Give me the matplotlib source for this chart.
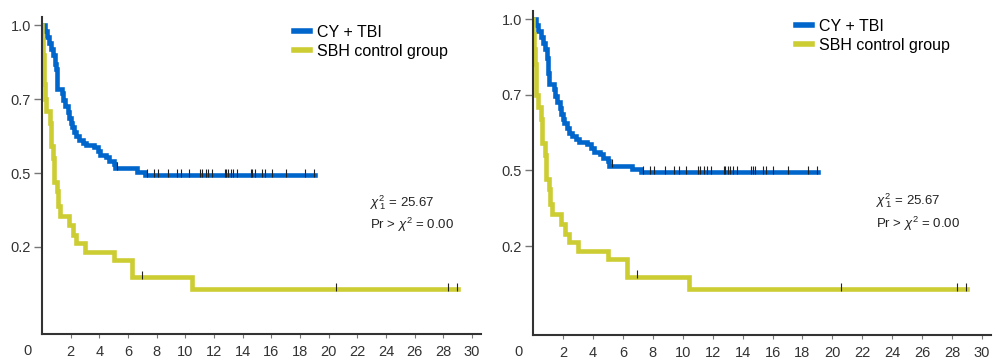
import numpy as np
import matplotlib
matplotlib.use("Agg")
from matplotlib import pyplot as plt

plt.rcParams['font.family'] = ['Liberation Sans', 'DejaVu Sans']
plt.rcParams['mathtext.fontset'] = 'custom'
plt.rcParams['mathtext.rm'] = 'Liberation Sans'
plt.rcParams['mathtext.it'] = 'Liberation Sans:italic'

# CY + TBI: step times (years) and survival after each step
cy_times = [0, 0.2, 0.35, 0.5, 0.65, 0.8, 0.9, 0.97, 1.02, 1.07, 1.4, 1.5, 1.6,
            1.8, 1.9, 2.0, 2.1, 2.25, 2.4, 2.6, 2.85, 3.1, 3.6, 3.9, 4.05, 4.5,
            4.65, 5.0, 5.1, 6.6, 7.2]
cy_surv = [1.0, 0.98, 0.96, 0.94, 0.92, 0.90, 0.87, 0.85, 0.82, 0.785, 0.77,
           0.745, 0.725, 0.705, 0.685, 0.67, 0.655, 0.64, 0.625, 0.613, 0.603,
           0.595, 0.588, 0.575, 0.562, 0.553, 0.54, 0.53, 0.516, 0.505, 0.493]
cy_end = 19.05
cy_censor = [5.25, 7.35, 7.8, 8.1, 8.8, 9.4, 9.72, 10.25, 11.0, 11.18, 11.43,
             11.6, 11.88, 12.75, 12.85, 13.0, 13.17, 13.35, 13.63, 14.56, 14.68,
             14.86, 15.33, 15.56, 16.03, 17.0, 18.37, 19.0]

# SBH control group
sbh_times = [0, 0.03, 0.07, 0.12, 0.17, 0.22, 0.3, 0.55, 0.62, 0.78, 0.85, 1.05,
             1.12, 1.25, 1.9, 2.15, 2.4, 3.0, 5.0, 6.25, 10.45]
sbh_surv = [1.0, 0.95, 0.90, 0.85, 0.80, 0.75, 0.71, 0.67, 0.59, 0.55, 0.47,
            0.44, 0.39, 0.355, 0.324, 0.29, 0.262, 0.234, 0.206, 0.148, 0.107]
sbh_end = 29.0
sbh_censor = [6.96, 20.55, 28.35, 28.93]

ytick_pos = [0.25, 0.5, 0.75, 1.0]
ytick_labels = ['0.2', '0.5', '0.7', '1.0']
xticks = list(range(2, 31, 2))

blue = '#0066cc'
yellow = '#cccc33'
axis_col = '#333333'


def surv_at(times, surv, t):
    i = np.searchsorted(times, t, side='right') - 1
    return np.array(surv)[i]


def km_panel(ax):
    for times, surv, end, cens, col, lab in [
            (cy_times, cy_surv, cy_end, cy_censor, blue, 'CY + TBI'),
            (sbh_times, sbh_surv, sbh_end, sbh_censor, yellow, 'SBH control group')]:
        x = list(times) + [end]
        y = list(surv) + [surv[-1]]
        ax.step(x, y, where='post', color=col, lw=3.3, label=lab,
                solid_joinstyle='miter', zorder=2)
        cv = surv_at(times, surv, np.array(cens))
        ax.plot(cens, cv + 0.008, ls='none', marker='|', ms=6, mew=0.8,
                color='#222222', zorder=3)

    ax.set_xlim(0, 30.6)
    ax.set_ylim(-0.044, 1.027)
    ax.set_xticks(xticks)
    ax.set_yticks(ytick_pos)
    ax.set_yticklabels(ytick_labels)
    for s in ['top', 'right']:
        ax.spines[s].set_visible(False)
    for s in ['left', 'bottom']:
        ax.spines[s].set_color(axis_col)
        ax.spines[s].set_linewidth(1.5)
    ax.tick_params(axis='y', length=6, width=1, color='#777777', pad=2,
                   labelsize=10.5, labelcolor=axis_col)
    ax.tick_params(axis='x', length=3, width=0.8, color='#777777', pad=5,
                   labelsize=10.5, labelcolor=axis_col)
    # origin label sits left of the corner
    ax.annotate('0', xy=(0, 0), xycoords='axes fraction', xytext=(-15, -17),
                textcoords='offset pixels', ha='center', va='center',
                fontsize=10.5, color=axis_col)

    leg = ax.legend(loc='upper left', bbox_to_anchor=(0.575, 0.975), frameon=False,
                    fontsize=11.5, handlelength=1.0, handletextpad=0.4,
                    labelspacing=0.25, borderpad=0, borderaxespad=0)
    for h in leg.get_lines():
        h.set_linewidth(4)
    ax.text(0.748, 0.413, r'$\chi^2_{\,1}$ = 25.67', transform=ax.transAxes,
            fontsize=9.5, va='center', color='#222222')
    ax.text(0.748, 0.344, r'Pr > $\chi^2$ = 0.00', transform=ax.transAxes,
            fontsize=9.5, va='center', color='#222222')


fig = plt.figure(figsize=(9.93, 3.61), dpi=100)
ax1 = fig.add_axes([0.0423, 0.0748, 0.4416, 0.878])
ax2 = fig.add_axes([0.5368, 0.072, 0.4613, 0.898])
km_panel(ax1)
km_panel(ax2)

plt.savefig('out.png', dpi=100)
